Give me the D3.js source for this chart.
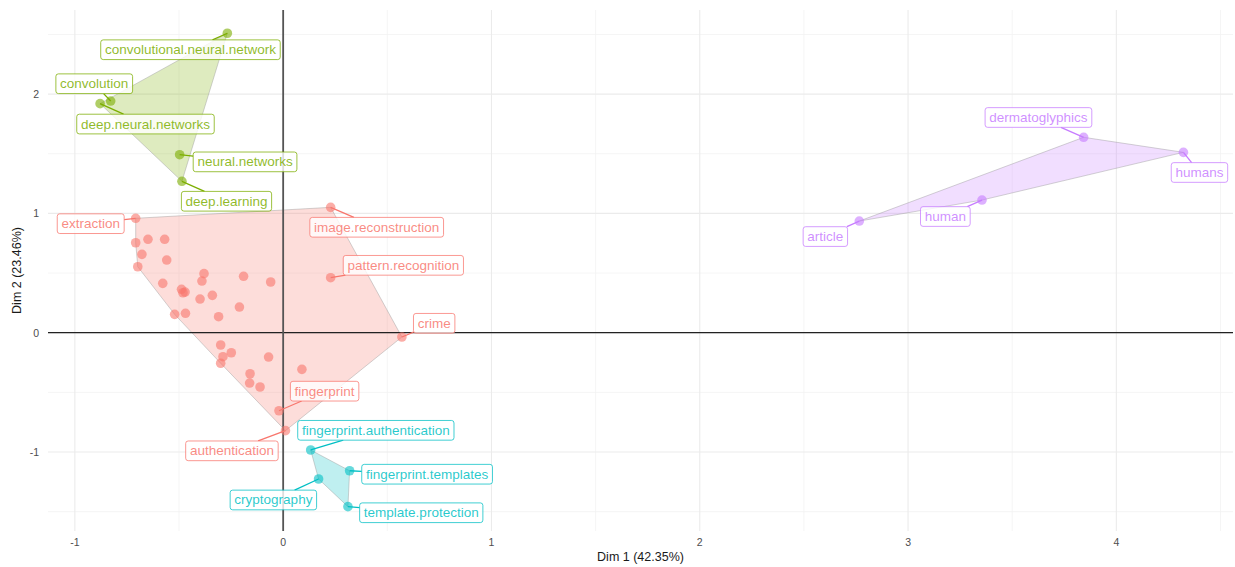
<!DOCTYPE html>
<html>
<head>
<meta charset="utf-8">
<script src="https://cdn.jsdelivr.net/npm/d3@7"></script>
<style>
  html, body { margin: 0; padding: 0; background: #fff; }
  svg { display: block; font-family: "Liberation Sans", Arial, Helvetica, sans-serif; }
</style>
</head>
<body>
<svg id="chart" width="1235" height="567"></svg>
<script>
// Cluster plot of keyword co-occurrence on the first two dimensions.

const clusterIds = [1, 2, 3, 4];
const clusterColors = ["#F8766D", "#7CAE00", "#00BFC4", "#C77CFF"];

// Labelled terms
const termNames = [
  "convolutional.neural.network", "convolution", "deep.neural.networks", "neural.networks", "deep.learning",
  "extraction", "image.reconstruction", "pattern.recognition", "crime", "fingerprint", "authentication",
  "fingerprint.authentication", "fingerprint.templates", "cryptography", "template.protection",
  "dermatoglyphics", "humans", "human", "article"
];
const termDim1 = [
  -0.268, -0.828, -0.879, -0.497, -0.486,
  -0.708, 0.228, 0.228, 0.570, -0.020, 0.011,
  0.132, 0.319, 0.170, 0.311,
  3.843, 4.322, 3.355, 2.766
];
const termDim2 = [
  2.510, 1.942, 1.920, 1.492, 1.269,
  0.959, 1.051, 0.461, -0.036, -0.654, -0.821,
  -0.983, -1.157, -1.226, -1.458,
  1.638, 1.512, 1.112, 0.936
];
const termCluster = [
  2, 2, 2, 2, 2,
  1, 1, 1, 1, 1, 1,
  3, 3, 3, 3,
  4, 4, 4, 4
];
// Repelled label centres, in the same dimension units
const labelDim1 = [
  -0.445, -0.907, -0.661, -0.183, -0.272,
  -0.924, 0.449, 0.577, 0.725, 0.199, -0.246,
  0.445, 0.691, -0.047, 0.663,
  3.626, 4.399, 3.179, 2.603
];
const labelDim2 = [
  2.372, 2.087, 1.749, 1.432, 1.102,
  0.914, 0.884, 0.565, 0.079, -0.490, -0.990,
  -0.818, -1.186, -1.402, -1.509,
  1.804, 1.343, 0.974, 0.806
];

// Unlabelled terms of cluster 1
const otherDim1 = [
  -0.649, -0.569, -0.708, -0.678, -0.559, -0.698, -0.380, -0.190, -0.390, -0.060,
  -0.578, -0.488, -0.471, -0.481, -0.340, -0.399, -0.210, -0.521, -0.469, -0.310,
  -0.300, -0.249, -0.289, -0.070, -0.300, 0.090, -0.159, -0.161, -0.111
];
const otherDim2 = [
  0.783, 0.783, 0.754, 0.657, 0.609, 0.553, 0.495, 0.473, 0.433, 0.425,
  0.414, 0.364, 0.341, 0.335, 0.313, 0.282, 0.215, 0.154, 0.163, 0.134,
  -0.103, -0.168, -0.201, -0.204, -0.256, -0.307, -0.344, -0.422, -0.455
];

const xTicks = [-1, 0, 1, 2, 3, 4];
const yTicks = [-1, 0, 1, 2];
const xTitle = "Dim 1 (42.35%)";
const yTitle = "Dim 2 (23.46%)";

// ---- layout ----
const panel = { left: 48, right: 1233, top: 10, bottom: 531 };

const x = d3.scaleLinear().domain([-1.129, 4.56]).range([panel.left, panel.right]);
const y = d3.scaleLinear().domain([-1.662, 2.705]).range([panel.bottom, panel.top]);
const color = d3.scaleOrdinal().domain(clusterIds).range(clusterColors);

const svg = d3.select("#chart");

// points table
const points = [];
termNames.forEach((n, i) => points.push({
  name: n, d1: termDim1[i], d2: termDim2[i], cl: termCluster[i],
  l1: labelDim1[i], l2: labelDim2[i]
}));
otherDim1.forEach((v, i) => points.push({ name: null, d1: v, d2: otherDim2[i], cl: 1 }));

// ---- grid ----
const grid = svg.append("g");
const minorX = d3.range(-1, 4.6, 0.5).filter(v => Math.abs(v % 1) > 0.01);
const minorY = d3.range(-1.5, 2.6, 0.5).filter(v => Math.abs(v % 1) > 0.01);
grid.selectAll(".mx").data(minorX).join("line")
  .attr("x1", d => x(d)).attr("x2", d => x(d))
  .attr("y1", panel.top).attr("y2", panel.bottom)
  .attr("stroke", "#f2f2f2").attr("stroke-width", 0.8);
grid.selectAll(".my").data(minorY).join("line")
  .attr("y1", d => y(d)).attr("y2", d => y(d))
  .attr("x1", panel.left).attr("x2", panel.right)
  .attr("stroke", "#f2f2f2").attr("stroke-width", 0.8);
grid.selectAll(".gx").data(xTicks).join("line")
  .attr("x1", d => x(d)).attr("x2", d => x(d))
  .attr("y1", panel.top).attr("y2", panel.bottom)
  .attr("stroke", "#ebebeb").attr("stroke-width", 1.1);
grid.selectAll(".gy").data(yTicks).join("line")
  .attr("y1", d => y(d)).attr("y2", d => y(d))
  .attr("x1", panel.left).attr("x2", panel.right)
  .attr("stroke", "#ebebeb").attr("stroke-width", 1.1);

// ---- cluster hulls ----
const hullG = svg.append("g");
clusterIds.forEach(c => {
  const pts = points.filter(p => p.cl === c).map(p => [x(p.d1), y(p.d2)]);
  const hull = d3.polygonHull(pts);
  if (!hull) return;
  hullG.append("path")
    .attr("d", "M" + hull.join("L") + "Z")
    .attr("fill", color(c)).attr("fill-opacity", 0.25)
    .attr("stroke", "#9a9a9a").attr("stroke-opacity", 0.55).attr("stroke-width", 0.8);
});

// ---- zero lines ----
svg.append("line")
  .attr("x1", panel.left).attr("x2", panel.right)
  .attr("y1", y(0)).attr("y2", y(0))
  .attr("stroke", "#222").attr("stroke-width", 1.2);
svg.append("line")
  .attr("x1", x(0)).attr("x2", x(0))
  .attr("y1", panel.top).attr("y2", panel.bottom)
  .attr("stroke", "#555").attr("stroke-width", 1.8);

// ---- points ----
svg.append("g").selectAll("circle").data(points).join("circle")
  .attr("cx", d => x(d.d1)).attr("cy", d => y(d.d2))
  .attr("r", 4.8)
  .attr("fill", d => color(d.cl)).attr("fill-opacity", 0.6);

// ---- labels with leader segments ----
const labG = svg.append("g");
const padX = 4.2, padY = 3.1, fs = 13.5;
points.filter(p => p.name).forEach(p => {
  const cx = x(p.l1), cy = y(p.l2);
  const px = x(p.d1), py = y(p.d2);
  const g = labG.append("g");
  const seg = g.append("line");
  const rect = g.append("rect");
  const t = g.append("text")
    .attr("x", cx).attr("y", cy)
    .attr("text-anchor", "middle").attr("dominant-baseline", "central")
    .attr("font-size", fs).attr("fill", color(p.cl)).attr("fill-opacity", 0.85)
    .text(p.name);
  const tw = t.node().getComputedTextLength();
  const bw = tw + 2 * padX, bh = fs + 2 * padY;
  const bx = cx - bw / 2, by = cy - bh / 2;
  rect.attr("x", bx).attr("y", by).attr("width", bw).attr("height", bh)
    .attr("rx", 2.5).attr("ry", 2.5)
    .attr("fill", "#fff").attr("fill-opacity", 0.8)
    .attr("stroke", color(p.cl)).attr("stroke-opacity", 0.75).attr("stroke-width", 1);
  // clip the segment at the box boundary along the centre direction
  const dx = cx - px, dy = cy - py;
  let tEnd = 1;
  if (dx !== 0) {
    const tx = ((dx > 0 ? bx : bx + bw) - px) / dx;
    const yy = py + tx * dy;
    if (tx >= 0 && tx <= 1 && yy >= by && yy <= by + bh) tEnd = Math.min(tEnd, tx);
  }
  if (dy !== 0) {
    const ty = ((dy > 0 ? by : by + bh) - py) / dy;
    const xx = px + ty * dx;
    if (ty >= 0 && ty <= 1 && xx >= bx && xx <= bx + bw) tEnd = Math.min(tEnd, ty);
  }
  seg.attr("x1", px).attr("y1", py)
    .attr("x2", px + dx * tEnd).attr("y2", py + dy * tEnd)
    .attr("stroke", color(p.cl)).attr("stroke-width", 1.3);
});

// ---- axes ----
const axG = svg.append("g").attr("font-size", 10.5).attr("fill", "#4d4d4d");
axG.selectAll(".xt").data(xTicks).join("text")
  .attr("x", d => x(d)).attr("y", panel.bottom + 11)
  .attr("text-anchor", "middle").attr("dominant-baseline", "central")
  .text(d => String(d));
axG.selectAll(".yt").data(yTicks).join("text")
  .attr("x", panel.left - 9).attr("y", d => y(d))
  .attr("text-anchor", "end").attr("dominant-baseline", "central")
  .text(d => String(d));

svg.append("text")
  .attr("x", (panel.left + panel.right) / 2).attr("y", 557)
  .attr("text-anchor", "middle").attr("dominant-baseline", "central")
  .attr("font-size", 12.5).attr("fill", "#1a1a1a")
  .text(xTitle);
svg.append("text")
  .attr("transform", `translate(17,${(panel.top + panel.bottom) / 2}) rotate(-90)`)
  .attr("text-anchor", "middle").attr("dominant-baseline", "central")
  .attr("font-size", 12.5).attr("fill", "#1a1a1a")
  .text(yTitle);
</script>
</body>
</html>
